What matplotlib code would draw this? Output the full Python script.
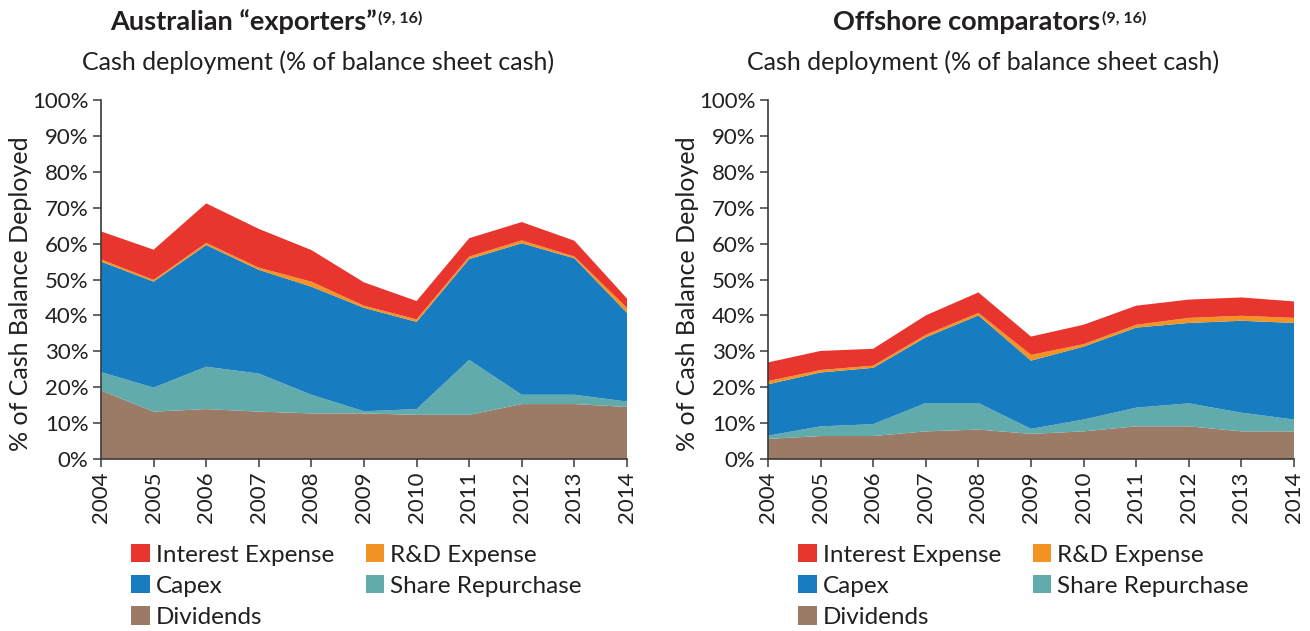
import matplotlib
matplotlib.use("Agg")
import matplotlib.pyplot as plt
from matplotlib.patches import Patch
from matplotlib.ticker import FuncFormatter, MultipleLocator

plt.rcParams['font.family'] = ['Lato', 'DejaVu Sans']

years = [2004, 2005, 2006, 2007, 2008, 2009, 2010, 2011, 2012, 2013, 2014]
series_names = ["Dividends", "Share Repurchase", "Capex", "R&D Expense", "Interest Expense"]
colors = {"Dividends": "#9B7B65", "Share Repurchase": "#62ABAD", "Capex": "#177CC0",
          "R&D Expense": "#F39323", "Interest Expense": "#E8352E"}

# Australian "exporters" (% of balance sheet cash)
au_dividends = [19.1, 13.2, 13.9, 13.2, 12.7, 12.7, 12.3, 12.3, 15.3, 15.3, 14.5]
au_share_repurchase = [5.1, 6.7, 11.8, 10.6, 5.2, 0.6, 1.6, 15.3, 2.6, 2.6, 1.5]
au_capex = [30.8, 29.5, 33.9, 28.9, 30.1, 28.8, 24.3, 28.1, 42.2, 38.0, 24.7]
au_rd = [0.6, 0.5, 0.6, 0.6, 1.4, 0.6, 0.7, 0.7, 0.8, 0.5, 1.4]
au_interest = [7.8, 8.4, 11.0, 10.8, 8.8, 6.5, 5.1, 5.1, 5.1, 4.4, 2.6]

# Offshore comparators
off_dividends = [5.6, 6.4, 6.4, 7.7, 8.2, 7.0, 7.7, 9.1, 9.1, 7.7, 7.7]
off_share_repurchase = [0.9, 2.7, 3.3, 7.9, 7.4, 1.4, 3.3, 5.2, 6.4, 5.2, 3.3]
off_capex = [14.3, 15.0, 15.7, 18.3, 24.4, 19.0, 20.3, 22.3, 22.4, 25.6, 26.9]
off_rd = [0.9, 0.7, 0.6, 0.7, 0.7, 1.6, 0.7, 0.8, 1.4, 1.4, 1.4]
off_interest = [5.2, 5.3, 4.7, 5.4, 5.7, 5.1, 5.4, 5.3, 5.1, 5.1, 4.6]

titles = ["Australian \u201cexporters\u201d", "Offshore comparators"]
title_sup = "(9, 16)"
subtitle = "Cash deployment (% of balance sheet cash)"
ylabel = "% of Cash Balance Deployed"

W, H = 1310, 631
fig = plt.figure(figsize=(W / 100, H / 100), dpi=100)

# (axes left px, axes right px, data, title, title left px, subtitle centre px)
panels = [
    (101, 627, [au_dividends, au_share_repurchase, au_capex, au_rd, au_interest], titles[0], 110, 318),
    (768, 1294, [off_dividends, off_share_repurchase, off_capex, off_rd, off_interest], titles[1], 833, 983),
]

text_color = "#231F20"
for (x0, x1, data, title, tx, sx) in panels:
    ax = fig.add_axes([x0 / W, 1 - 459 / H, (x1 - x0) / W, (459 - 100) / H])
    ax.stackplot(years, *data, colors=[colors[n] for n in series_names], linewidth=0)
    ax.set_xlim(years[0], years[-1])
    ax.set_ylim(0, 100)
    ax.yaxis.set_major_locator(MultipleLocator(10))
    ax.yaxis.set_major_formatter(FuncFormatter(lambda v, p: f"{v:.0f}%"))
    ax.set_xticks(years)
    ax.set_xticklabels([str(y) for y in years], rotation=90)
    for s in ["top", "right"]:
        ax.spines[s].set_visible(False)
    for s in ["left", "bottom"]:
        ax.spines[s].set_color("#3a3a3a")
        ax.spines[s].set_linewidth(1.2)
    ax.tick_params(axis="both", direction="out", length=6, width=1.1, color="#3a3a3a",
                   labelsize=16, labelcolor=text_color, pad=3)
    ax.set_ylabel(ylabel, fontsize=18, color=text_color)
    ax.yaxis.set_label_coords(-0.131, 0.46)

    t = fig.text(tx / W, 1 - 22 / H, title, ha="left", va="center",
                 fontsize=19.5, fontweight="bold", color=text_color)
    ax.annotate(title_sup, xy=(1, 1), xycoords=t, xytext=(1, -1), textcoords="offset points",
                ha="left", va="top", fontsize=11.5, fontweight="bold", color=text_color)
    fig.text(sx / W, 1 - 62 / H, subtitle, ha="center", va="center",
             fontsize=18, color=text_color)

    handles = [Patch(facecolor=colors[n], edgecolor="none", label=n)
               for n in ["Interest Expense", "Capex", "Dividends", "R&D Expense", "Share Repurchase"]]
    fig.legend(handles=handles, loc="upper left", ncol=2, frameon=False,
               bbox_to_anchor=((x0 + 30) / W, 1 - 544 / H), fontsize=17.5,
               handlelength=0.77, handleheight=0.77, handletextpad=0.25,
               columnspacing=1.3, labelspacing=0.40, borderpad=0, borderaxespad=0,
               labelcolor=text_color)

fig.savefig("out.png", dpi=100)
